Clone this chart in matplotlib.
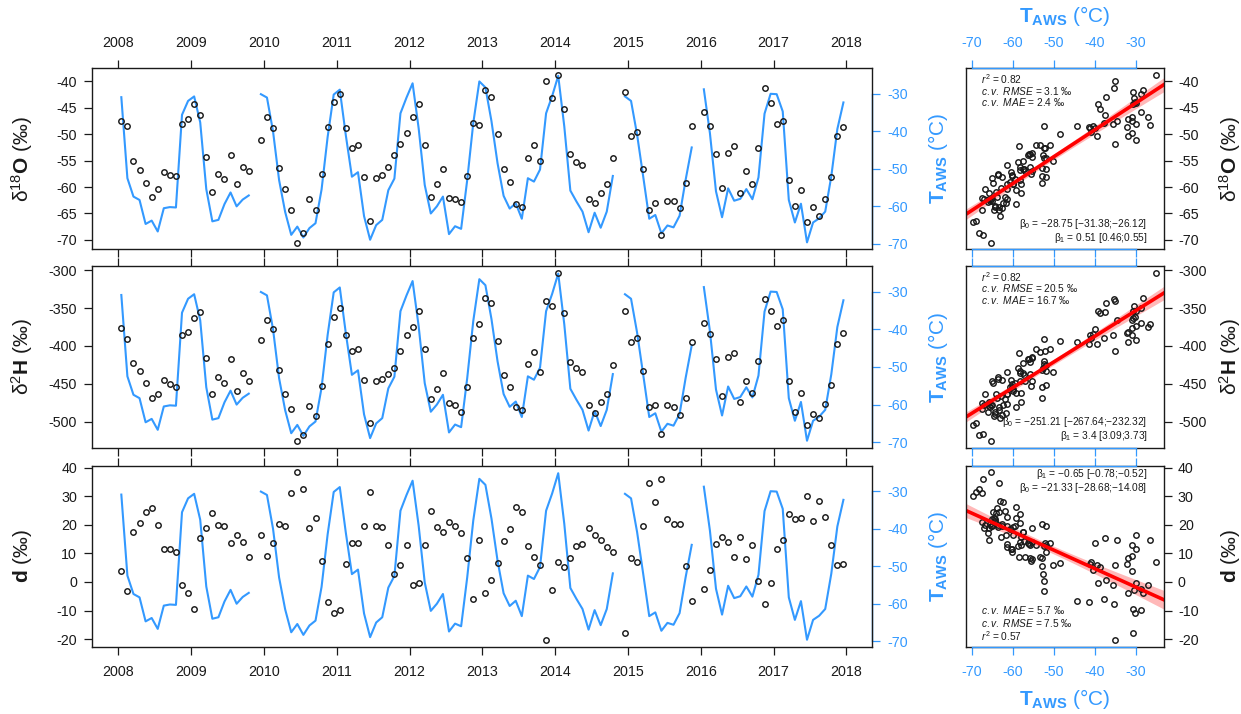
"""
Monthly precipitation isotopes vs AWS temperature, 2008-2017.
Left: time series (isotopes as points, T_AWS as blue line on twin axis).
Right: isotope vs T_AWS scatter with OLS line and 95% band.
"""
import numpy as np
import matplotlib
matplotlib.use("Agg")
import matplotlib.pyplot as plt
from matplotlib.transforms import blended_transform_factory

nan = np.nan

YEARS = list(range(2008, 2019))

# one value per month, Jan 2008 .. Dec 2017 (nan = no sample)
D18O = [
    -47.5, -48.5, -55.0, -56.7, -59.2, -61.8, -60.3, -57.1, -57.7, -58.0, -48.1, -47.1,
    -44.2, -46.3, -54.3, -60.9, -57.6, -58.5, -53.9, -59.4, -56.2, -56.9, nan, -51.0,
    -46.8, -48.8, -56.4, -60.3, -64.4, -70.6, -68.7, -62.2, -64.3, -57.6, -48.7, -43.8,
    -42.4, -48.9, -52.6, -52.1, -58.1, -66.5, -58.2, -57.7, -56.2, -53.9, -51.9, -49.8,
    -46.7, -44.2, -52.0, -61.9, -59.5, -56.6, -62.0, -62.2, -62.9, -57.9, -47.9, -48.3,
    -41.6, -43.0, -50.0, -56.5, -59.0, -63.3, -63.7, -54.5, -52.1, -55.0, -40.0, -43.1,
    -38.8, -45.2, -53.7, -55.2, -55.9, -62.2, -63.1, -61.1, -59.5, -54.5, nan, -42.0,
    -50.4, -49.6, -56.6, -64.4, -63.1, -69.0, -62.6, -62.6, -64.0, -59.3, -48.5, nan,
    -45.8, -48.5, -53.8, -60.2, -53.6, -52.3, -61.1, -56.9, -59.4, -52.6, -41.2, -44.1,
    -48.0, -47.4, -58.6, -63.6, -60.5, -66.7, -63.8, -65.4, -62.3, -58.1, -50.4, -48.7,
]

D2H = [
    -376.7, -391.2, -422.5, -433.0, -449.3, -468.3, -463.0, -445.4, -450.7, -453.7, -385.9, -381.5,
    -363.4, -355.5, -415.9, -463.4, -441.4, -448.9, -417.6, -459.0, -435.7, -446.3, nan, -392.1,
    -365.6, -378.0, -431.7, -463.0, -483.7, -526.0, -517.2, -478.9, -492.5, -453.3, -396.9, -361.7,
    -349.8, -385.0, -407.0, -404.4, -444.9, -501.3, -446.7, -443.2, -437.4, -429.1, -406.6, -385.9,
    -374.9, -354.2, -403.5, -470.0, -456.8, -435.7, -475.3, -478.4, -486.8, -454.6, -389.4, -371.4,
    -336.6, -343.6, -393.4, -437.9, -453.7, -480.2, -485.0, -423.3, -408.4, -433.9, -341.0, -347.6,
    -304.4, -356.8, -421.1, -429.1, -433.9, -478.4, -488.5, -474.4, -463.9, -425.1, nan, -353.7,
    -395.2, -389.9, -432.6, -480.2, -477.5, -515.9, -478.4, -480.6, -490.7, -468.3, -395.2, nan,
    -369.6, -384.1, -417.2, -466.1, -415.0, -409.3, -474.0, -446.7, -462.6, -420.3, -337.9, -353.7,
    -373.6, -365.6, -445.8, -486.8, -462.1, -504.0, -489.4, -495.2, -476.7, -451.5, -397.4, -382.8,
]

DEX = [
    3.7, -3.3, 17.7, 20.8, 24.6, 26.1, 20.1, 11.7, 11.6, 10.4, -1.2, -4.0,
    -9.5, 15.4, 18.8, 24.2, 19.9, 19.8, 13.7, 16.5, 13.9, 8.8, nan, 16.5,
    9.2, 13.6, 20.5, 19.6, 31.1, 38.6, 32.6, 19.1, 22.3, 7.5, -7.1, -10.8,
    -9.9, 6.4, 13.6, 13.6, 19.5, 31.5, 19.6, 19.3, 13.0, 2.7, 6.1, 13.0,
    -1.2, -0.2, 13.1, 25.0, 19.2, 17.4, 21.2, 19.5, 17.2, 8.5, -6.1, 14.9,
    -3.9, 0.6, 6.8, 14.3, 18.5, 26.3, 24.7, 12.6, 8.8, 6.1, -20.2, -2.7,
    6.9, 5.1, 8.3, 12.7, 13.2, 19.1, 16.4, 14.7, 12.2, 10.6, nan, -17.8,
    8.4, 7.1, 19.5, 34.7, 28.0, 36.1, 22.2, 20.5, 20.5, 5.7, -6.7, nan,
    -2.5, 4.1, 13.3, 15.8, 13.9, 8.9, 15.9, 8.1, 12.9, 0.2, -7.7, -0.5,
    11.6, 14.6, 23.7, 22.1, 22.5, 30.2, 21.5, 28.5, 22.8, 13.1, 6.0, 6.4,
]

TAWS = [
    -30.9, -52.5, -57.4, -58.3, -64.7, -63.8, -66.7, -60.5, -60.2, -60.3, -35.6, -31.9,
    -30.7, -37.6, -55.4, -64.0, -63.6, -59.4, -56.3, -60.0, -58.2, -57.1, nan, -30.1,
    -31.0, -40.0, -53.0, -61.5, -67.6, -65.4, -68.3, -65.8, -64.5, -55.5, -41.5, -30.2,
    -28.9, -41.1, -52.1, -50.9, -62.6, -68.9, -65.0, -63.6, -55.7, -52.6, -35.2, -31.0,
    -27.2, -39.2, -54.3, -61.9, -60.0, -57.4, -67.4, -65.3, -66.0, -53.0, -37.8, -26.7,
    -28.3, -37.3, -48.5, -57.2, -60.6, -59.2, -63.3, -52.5, -53.4, -50.2, -35.2, -30.6,
    -25.2, -38.7, -55.8, -58.7, -61.4, -66.9, -61.7, -65.7, -61.4, -51.9, nan, -30.7,
    -31.9, -40.9, -52.0, -63.3, -62.3, -67.2, -65.1, -65.6, -62.5, -52.9, -44.3, nan,
    -28.8, -40.5, -56.0, -62.9, -55.2, -58.5, -58.0, -55.4, -58.1, -52.3, -35.3, -30.0,
    -30.1, -34.7, -58.3, -64.3, -59.3, -69.6, -64.3, -63.2, -61.4, -52.0, -39.4, -32.3,
]

# regression results printed on the scatter panels
B0 = [-28.75, -251.21, -21.33]
B1 = [0.51, 3.4, -0.65]
FIT_TOP = [
    [r"$r^2$ = 0.82", r"$\mathit{c.v.\ RMSE}$ = 3.1 ‰", r"$\mathit{c.v.\ MAE}$ = 2.4 ‰"],
    [r"$r^2$ = 0.82", r"$\mathit{c.v.\ RMSE}$ = 20.5 ‰", r"$\mathit{c.v.\ MAE}$ = 16.7 ‰"],
    [r"$\mathrm{\beta}_1$ = −0.65 [−0.78;−0.52]", r"$\mathrm{\beta}_0$ = −21.33 [−28.68;−14.08]"],
]
FIT_BOTTOM = [
    [r"$\mathrm{\beta}_0$ = −28.75 [−31.38;−26.12]", r"$\mathrm{\beta}_1$ = 0.51 [0.46;0.55]"],
    [r"$\mathrm{\beta}_0$ = −251.21 [−267.64;−232.32]", r"$\mathrm{\beta}_1$ = 3.4 [3.09;3.73]"],
    [r"$\mathit{c.v.\ MAE}$ = 5.7 ‰", r"$\mathit{c.v.\ RMSE}$ = 7.5 ‰", r"$r^2$ = 0.57"],
]

LABELS = [r"$\mathrm{\delta}^{18}\mathbf{O}$ (‰)", r"$\mathrm{\delta}^{2}\mathbf{H}$ (‰)", r"$\mathbf{d}$ (‰)"]
YTICKS = [[-40, -45, -50, -55, -60, -65, -70],
          [-300, -350, -400, -450, -500],
          [40, 30, 20, 10, 0, -10, -20]]
YLIMS = [(-71.8, -37.5), (-534.5, -294.5), (-22.7, 40.8)]
TLIM = (-71.45, -23.2)
TTICKS = [-70, -60, -50, -40, -30]
T_LABEL = r"$\mathbf{T}_{\mathbf{AWS}}$ (°C)"

BLUE = "#3399ff"
INK = "#1a1a1a"

plt.rcParams.update({
    "font.family": ["Liberation Sans", "DejaVu Sans"],
    "mathtext.fontset": "custom",
    "mathtext.rm": "Liberation Sans",
    "mathtext.it": "Liberation Sans:italic",
    "mathtext.bf": "Liberation Sans:bold",
    "axes.unicode_minus": False,
    "axes.linewidth": 1.0,
})

W, H = 1241, 714
fig = plt.figure(figsize=(W / 100, H / 100), dpi=100)


def px_axes(x0, y0, x1, y1):
    return fig.add_axes([x0 / W, 1 - y1 / H, (x1 - x0) / W, (y1 - y0) / H])


rows = [(68.3, 249.3), (266.0, 447.7), (465.7, 646.7)]
series = [np.array(D18O), np.array(D2H), np.array(DEX)]
taws = np.array(TAWS)
months = 2008 + (np.arange(len(taws)) + 0.5) / 12.0

for i, (y0, y1) in enumerate(rows):
    yv = series[i]

    # ---- time series panel
    ax = px_axes(92.3, y0, 872.3, y1)
    ax.set_xlim(2007.643, 2018.355)
    ax.set_ylim(*YLIMS[i])
    ax.set_xticks(YEARS)
    ax.set_yticks(YTICKS[i])
    ax.tick_params(axis="both", direction="out", length=6, width=0.9,
                   labelsize=10.3, colors=INK)
    ax.tick_params(axis="x", top=True, bottom=True, pad=7,
                   labeltop=(i == 0), labelbottom=(i == 2))
    ax.tick_params(axis="y", pad=5)
    for s in ax.spines.values():
        s.set_color(INK)

    tw = ax.twinx()
    tw.set_ylim(*TLIM)
    tw.set_yticks(TTICKS)
    tw.tick_params(axis="y", direction="out", length=6, width=0.9,
                   labelsize=10.3, colors=BLUE, pad=5)
    for name in ("left", "top", "bottom"):
        tw.spines[name].set_visible(False)
    tw.spines["right"].set_bounds(-70, -30)
    tw.spines["right"].set_color(BLUE)
    tw.plot(months, taws, color=BLUE, lw=1.5)
    ax.set_zorder(tw.get_zorder() + 1)
    ax.patch.set_visible(False)
    ax.plot(months, yv, "o", mfc="none", mec=INK, ms=3.9, mew=1.05)

    yc = 1 - (y0 + y1) / 2 / H
    fig.text(22 / W, yc, LABELS[i], rotation=90, ha="center", va="center",
             fontsize=15, color=INK)
    fig.text(938 / W, yc, T_LABEL, rotation=90, ha="center", va="center",
             fontsize=15, color=BLUE)

    # ---- scatter panel
    sx = px_axes(965.7, y0, 1164.0, y1)
    sx.set_xlim(*TLIM)
    sx.set_ylim(*YLIMS[i])
    sx.set_xticks(TTICKS)
    sx.set_yticks(YTICKS[i])
    sx.yaxis.tick_right()
    sx.tick_params(axis="y", direction="out", length=6, width=0.9,
                   labelsize=10.3, colors=INK, pad=4)
    sx.tick_params(axis="x", direction="out", length=6, width=0.9,
                   labelsize=10.3, colors=BLUE, pad=7, top=True, bottom=True,
                   labeltop=(i == 0), labelbottom=(i == 2))
    for s in sx.spines.values():
        s.set_color(INK)
    tr = blended_transform_factory(sx.transData, sx.transAxes)
    for yy in (0, 1):
        sx.plot([-70, -30], [yy, yy], transform=tr, color=BLUE, lw=1.0,
                clip_on=False, zorder=5)

    ok = ~np.isnan(yv) & ~np.isnan(taws)
    x, y = taws[ok], yv[ok]
    n = len(x)
    xs = np.linspace(TLIM[0], TLIM[1], 200)
    fit = B0[i] + B1[i] * xs
    resid = y - (B0[i] + B1[i] * x)
    s = np.sqrt(np.sum(resid ** 2) / (n - 2))
    se = s * np.sqrt(1.0 / n + (xs - x.mean()) ** 2 / np.sum((x - x.mean()) ** 2))
    sx.fill_between(xs, fit - 1.98 * se, fit + 1.98 * se, color="red",
                    alpha=0.28, lw=0)
    sx.plot(x, y, "o", mfc="none", mec=INK, ms=3.9, mew=1.05)
    sx.plot(xs, fit, color="red", lw=2.6)

    if i < 2:
        for k, t in enumerate(FIT_TOP[i]):
            sx.text(0.076, 0.94 - 0.063 * k, t, transform=sx.transAxes,
                    fontsize=7.3, color=INK, ha="left", va="center")
        for k, t in enumerate(FIT_BOTTOM[i]):
            sx.text(0.916, 0.14 - 0.078 * k, t, transform=sx.transAxes,
                    fontsize=7.3, color=INK, ha="right", va="center")
    else:
        for k, t in enumerate(FIT_TOP[i]):
            sx.text(0.916, 0.952 - 0.074 * k, t, transform=sx.transAxes,
                    fontsize=7.3, color=INK, ha="right", va="center")
        for k, t in enumerate(FIT_BOTTOM[i]):
            sx.text(0.076, 0.203 - 0.072 * k, t, transform=sx.transAxes,
                    fontsize=7.3, color=INK, ha="left", va="center")

    fig.text(1230 / W, yc, LABELS[i], rotation=90, ha="center", va="center",
             fontsize=15, color=INK)

fig.text(1064.9 / W, 1 - 16 / H, T_LABEL, ha="center", va="center",
         fontsize=15, color=BLUE)
fig.text(1064.9 / W, 1 - 699 / H, T_LABEL, ha="center", va="center",
         fontsize=15, color=BLUE)

fig.savefig("out.png", dpi=100)
